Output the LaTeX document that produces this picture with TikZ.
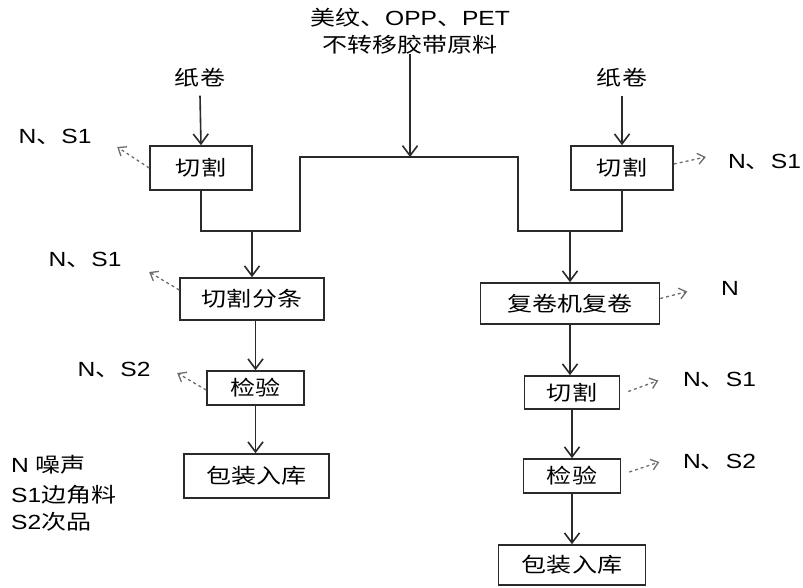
\documentclass[tikz,border=0pt]{standalone}
\usepackage{fontspec}
\setmainfont{Liberation Sans}[FakeStretch=1.2]
\newfontfamily\cjk{Noto Sans CJK SC}[FakeStretch=1.22]
\usetikzlibrary{arrows.meta}
\definecolor{ln}{HTML}{2A2A2A}
\tikzset{
  box/.style={draw=ln, line width=1.6pt, inner sep=0pt, font=\cjk\fontsize{20.5}{24}\selectfont},
  lbl/.style={inner sep=0pt, font=\fontsize{20.5}{24}\selectfont},
  flow/.style={draw=ln, line width=1.6pt},
  arr/.style={flow, -{Straight Barb[length=10pt,width=15pt,line width=1.6pt]}},
  emis/.style={draw=gray!85!black, line width=1.3pt, dash pattern=on 3pt off 3pt, -{Straight Barb[length=7pt,width=11pt,line width=1.3pt]}}
}
\begin{document}
\begin{tikzpicture}[x=1pt,y=-1pt]
\useasboundingbox (0,0) rectangle (803,587);
% top source
\node[lbl, align=center, font=\fontsize{20.5}{27}\selectfont] (src) at (410,31)
  {{\cjk\fontsize{20.5}{27}\selectfont 美纹、}OPP{\cjk\fontsize{20.5}{27}\selectfont 、}PET\\{\cjk\fontsize{20.5}{27}\selectfont 不转移胶带原料}};
\node[lbl, font=\cjk\fontsize{20.5}{24}\selectfont] (lpaper) at (200,78) {纸卷};
\node[lbl, font=\cjk\fontsize{20.5}{24}\selectfont] (rpaper) at (622,78) {纸卷};
% boxes
\node[box, minimum width=102pt, minimum height=44pt] (lcut) at (201,168) {切割};
\node[box, minimum width=144pt, minimum height=42pt] (lslit) at (252,299) {切割分条};
\node[box, minimum width=97pt, minimum height=34pt] (lins) at (255.5,388) {检验};
\node[box, minimum width=145pt, minimum height=44pt] (lpack) at (256.5,476) {包装入库};
\node[box, minimum width=102pt, minimum height=44pt] (rcut) at (622,168) {切割};
\node[box, minimum width=179pt, minimum height=41pt] (rrew) at (570,303.5) {复卷机复卷};
\node[box, minimum width=95pt, minimum height=33pt] (rcut2) at (572,392.5) {切割};
\node[box, minimum width=97pt, minimum height=34pt] (rins) at (572,476) {检验};
\node[box, minimum width=147pt, minimum height=40pt] (rpack) at (572,565) {包装入库};
% junction coordinates
\coordinate (jt) at (410,157);
\coordinate (tl) at (300,157);
\coordinate (tr) at (518,157);
\coordinate (bl) at (300,231);
\coordinate (br) at (518,231);
\coordinate (ml) at (252,231);
\coordinate (mr) at (570,231);
% flows
\draw[arr] (src.south) -- (jt);
\draw[arr] (lpaper.south) ++(0,8) -- (lcut.north);
\draw[arr] (rpaper.south) ++(0,8) -- (rcut.north);
\draw[flow] (lcut.south) |- (bl) -- (tl) -- (tr) -- (br) -| (rcut.south);
\draw[arr] (ml) -- (lslit.north);
\draw[arr] (mr) -- (rrew.north);
\draw[arr] (lslit.south -| lins.north) -- (lins.north);
\draw[arr] (lins.south) -- (lpack.north -| lins.south);
\draw[arr] (rrew.south) -- (rcut2.north -| rrew.south);
\draw[arr] (rcut2.south) -- (rins.north);
\draw[arr] (rins.south) -- (rpack.north);
% emissions
\draw[emis] (lcut.west) -- ++(-32,-21);
\draw[emis] (lslit.west) ++(0,-9) -- ++(-30,-18);
\draw[emis] (lins.west) ++(0,2) -- ++(-29,-17);
\draw[emis] (rcut.east) ++(0,-4) -- ++(32,-7);
\draw[emis] (rrew.east) ++(0,-5) -- ++(27,-7);
\draw[emis] (rcut2.east) ++(8,-1) -- ++(30,-11);
\draw[emis] (rins.east) ++(8,-4) -- ++(30,-10);
% emission labels
\node[lbl] (lcutN) at (55,137) {N{\cjk 、}S1};
\node[lbl] (lslitN) at (85,260) {N{\cjk 、}S1};
\node[lbl] (linsN) at (114,370) {N{\cjk 、}S2};
\node[lbl, anchor=west] (rcutN) at (728,162) {N{\cjk 、}S1};
\node[lbl, anchor=west] (rrewN) at (721,288) {N};
\node[lbl, anchor=west] (rcut2N) at (683,380) {N{\cjk 、}S1};
\node[lbl, anchor=west] (rinsN) at (683,462) {N{\cjk 、}S2};
% legend
\node[lbl, anchor=west] (lg1) at (11,465) {N {\cjk 噪声}};
\node[lbl, anchor=west] (lg2) at (11,495) {S1{\cjk 边角料}};
\node[lbl, anchor=west] (lg3) at (11,522) {S2{\cjk 次品}};
\end{tikzpicture}
\end{document}
